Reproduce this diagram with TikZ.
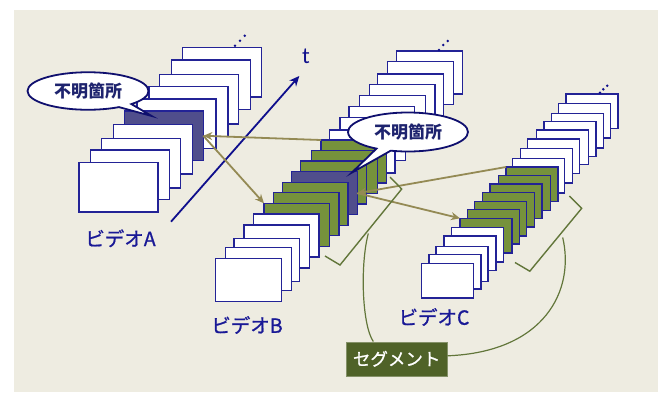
\documentclass[tikz,border=0pt]{standalone}
\usepackage{fontspec}
\newfontfamily\jp{Noto Sans CJK JP}
\newfontfamily\jpm[FakeBold=0.9]{Noto Sans CJK JP}
\newfontfamily\latn{Carlito}
\usetikzlibrary{shapes.callouts,arrows.meta}
\definecolor{bgtan}{HTML}{EEECE1}
\definecolor{frameline}{RGB}{35,35,150}
\definecolor{darkfr}{RGB}{80,78,140}
\definecolor{greenfr}{HTML}{76923C}
\definecolor{segfill}{HTML}{4F6228}
\definecolor{arrowc}{HTML}{948A54}
\definecolor{brackc}{RGB}{98,118,58}
\definecolor{navy}{RGB}{15,15,140}
\definecolor{labelc}{RGB}{25,25,150}
\definecolor{callc}{RGB}{15,15,110}
\definecolor{calltext}{RGB}{30,35,110}
\begin{document}
\begin{tikzpicture}[x=1pt,y=-1pt,
  frmbase/.style={draw=frameline,line width=1.4pt,inner sep=0pt,outer sep=0pt,anchor=north west},
  frameA/.style={frmbase,minimum width=79pt,minimum height=49.5pt},
  frameB/.style={frmbase,minimum width=65.5pt,minimum height=43pt},
  frameC/.style={frmbase,minimum width=52pt,minimum height=34.5pt},
  dotst/.style={fill=navy},
  linkarrow/.style={draw=arrowc,line width=1.8pt,-{Stealth[length=9pt,width=8pt]}},
  bracket/.style={draw=brackc,line width=1.4pt,line join=miter},
  segcurve/.style={draw=brackc,line width=1.2pt},
  bubble/.style={ellipse callout,draw=callc,fill=white,line width=1.8pt,inner sep=0pt,
     font=\jp\bfseries\fontsize{17}{17}\selectfont,text=calltext},
  vlabel/.style={font=\jpm\fontsize{19.5}{19.5}\selectfont,text=labelc,inner sep=0pt},
  segbox/.style={fill=segfill,draw=segfill!70!white,line width=0.6pt,minimum width=101pt,minimum height=34pt,
     inner sep=0pt,font=\jpm\fontsize{17.5}{17.5}\selectfont,text=white}
]
\useasboundingbox (0,0) rectangle (662,392);
\fill[white] (0,0) rectangle (662,392);
\fill[bgtan] (14,10) rectangle (658,392);

% time axis
\coordinate (t0) at (171,221.7);
\coordinate (t1) at (299.3,76);
\draw[navy,line width=1.8pt,-{Stealth[length=10pt,width=9pt]}] (t0) -- (t1);
\node[font=\latn\fontsize{23}{23}\selectfont,text=navy,inner sep=0pt] (tlab) at (306,56.5) {t};

% video A
\foreach \x/\y/\c [count=\i] in {182.7/47.3/white, 171.7/60/white, 159.3/74.3/white, 149/86.7/white,
   137/99/white, 124.3/111/darkfr, 113.3/124.3/white, 101.7/138.3/white, 90.7/150/white, 79/162.3/white}
  {\node[frameA,fill=\c] (A\i) at (\x,\y) {};}

% video B
\foreach \x/\y/\c [count=\i] in {396.7/51/white, 387.7/61.7/white, 377.7/74/white, 369.3/84.3/white,
   359.7/95.7/white, 349/106.7/white, 340/117.3/white, 329.3/130/white, 321/140/greenfr, 311.7/150.7/greenfr,
   300.7/161/greenfr, 291.7/171.7/darkfr, 282.3/182.7/greenfr, 273.3/192.7/greenfr, 264/203.3/greenfr,
   253.3/214/white, 244/225/white, 234/238.3/white, 225.7/247.7/white, 215.7/258.3/white}
  {\node[frameB,fill=\c] (B\i) at (\x,\y) {};}

% video C
\foreach \x/\y/\c [count=\i] in {566/94/white, 558.7/103.3/white, 551.3/113.3/white, 544/121.7/white,
   536.7/130/white, 527.7/139/white, 520.7/148.3/white, 512.7/158.3/white, 506/167/greenfr, 498.3/175.7/greenfr,
   490/184/greenfr, 482.3/192.3/greenfr, 474.3/201.3/greenfr, 467.3/209.3/greenfr, 460/218.3/greenfr,
   451.7/227.3/white, 444/236/white, 436/246.7/white, 429/254.3/white, 421.7/263.3/white}
  {\node[frameC,fill=\c] (C\i) at (\x,\y) {};}

% continuation dots
\foreach \p in {(235,45.7),(240,40.7),(244.7,35.7),(439,50),(443.3,45),(447.7,41),(600,92.7),(603.3,89.3),(607.3,85.7)}
  {\fill[dotst] \p circle (1.4pt);}

% links
\draw[linkarrow] (B9.north west) -- (A6.east);
\draw[linkarrow] (A6.east) -- (B15.north west);
\draw[linkarrow] (C9.north west) -- (B12.east);
\draw[linkarrow] (B12.east) -- (C15.north west);

% brackets
\coordinate (bB1) at (390,177);
\coordinate (bB2) at (401.7,189);
\coordinate (bB3) at (340,265);
\coordinate (bB4) at (325,256);
\coordinate (bC1) at (569.3,196);
\coordinate (bC2) at (581.7,208.3);
\coordinate (bC3) at (529.8,271.2);
\coordinate (bC4) at (515,262.5);
\draw[bracket] (bB1) -- (bB2) -- (bB3) -- (bB4);
\draw[bracket] (bC1) -- (bC2) -- (bC3) -- (bC4);

% segment label
\node[segbox] (segment) at (396.7,358.8) {セグメント};
\coordinate (sB) at (368.3,233.5);
\coordinate (sC) at (562.7,237.5);
\draw[segcurve] (sB) .. controls (360,265) and (362,325) .. ([xshift=-23.4pt]segment.north);
\draw[segcurve] (sC) .. controls (575,290) and (545,352) .. ([yshift=3pt]segment.east);

% callouts
\node[bubble,minimum width=121pt,minimum height=37.5pt,callout absolute pointer={(151.7,116)}] (calloutA) at (88,91) {不明箇所};
\node[bubble,minimum width=120pt,minimum height=39pt,callout absolute pointer={(351.7,172.7)}] (calloutB) at (408,132) {不明箇所};

% labels
\node[vlabel] (labA) at (120.5,238.3) {ビデオA};
\node[vlabel] (labB) at (247,325) {ビデオB};
\node[vlabel] (labC) at (434,317) {ビデオC};
\end{tikzpicture}
\end{document}
